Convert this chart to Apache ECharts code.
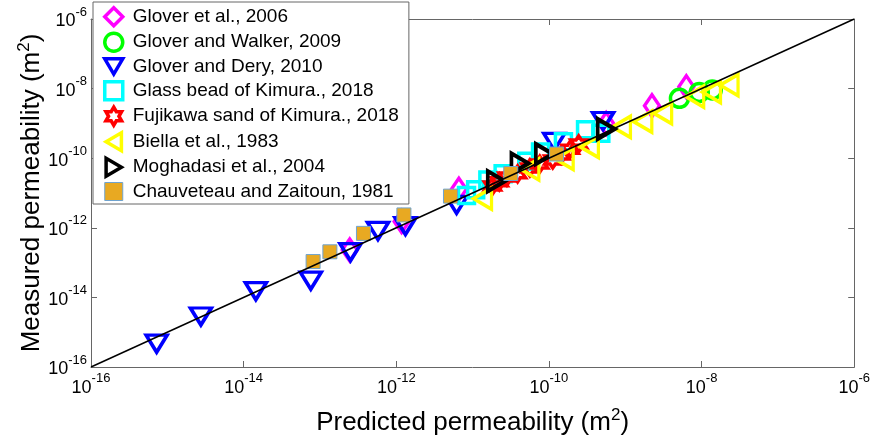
<!DOCTYPE html>
<html>
<head>
<meta charset="utf-8">
<script src="https://cdn.jsdelivr.net/npm/echarts@6/dist/echarts.min.js"></script>
<style>
html, body { margin: 0; padding: 0; background: #fff; }
#chart { width: 873px; height: 443px; }
</style>
</head>
<body>
<div id="chart"></div>
<script>
// values are log10 of permeability (m^2): [predicted, measured]
const axisMin = -16
const axisMax = -6
const tickStep = 2

const glover2006 = [[-12.61, -12.64], [-11.93, -11.82], [-11.18, -10.89], [-9.25, -9.00], [-8.65, -8.49], [-8.20, -7.95]]
const gloverWalker2009 = [[-8.29, -8.28], [-8.03, -8.11], [-7.86, -8.04]]
const gloverDery2010 = [[-15.14, -15.33], [-14.56, -14.55], [-13.84, -13.82], [-13.12, -13.52], [-12.60, -12.70],
  [-12.24, -12.09], [-11.88, -11.95], [-11.21, -11.34], [-9.93, -9.53], [-9.29, -8.93]]
const glassBead2018 = [[-11.08, -11.07], [-10.96, -10.91], [-10.80, -10.63], [-10.60, -10.45], [-10.29, -10.09],
  [-10.11, -9.82], [-9.81, -9.53], [-9.52, -9.18], [-9.32, -9.28]]
const fujikawa2018 = [[-10.74, -10.80], [-10.65, -10.68], [-10.55, -10.54], [-10.41, -10.45], [-10.25, -10.28],
  [-10.12, -10.17], [-9.95, -10.05], [-9.84, -9.91], [-9.72, -9.74], [-9.61, -9.59]]
const biella1983 = [[-10.87, -11.16], [-10.25, -10.32], [-9.80, -10.02], [-9.47, -9.68], [-9.05, -9.10],
  [-8.77, -8.95], [-8.51, -8.71], [-8.09, -8.23], [-7.87, -8.10], [-7.64, -7.90]]
const moghadasi2004 = [[-10.69, -10.66], [-10.38, -10.15], [-10.06, -9.88], [-9.25, -9.16]]
const chauveteau1981 = [[-13.09, -12.97], [-12.87, -12.69], [-12.43, -12.16], [-11.90, -11.63], [-11.29, -11.09],
  [-10.50, -10.44], [-9.90, -9.88]]
const oneToOne = [[-16, -16], [-6, -6]]

const FONT = 'Liberation Sans, Arial, sans-serif'
const hexagram = 'path://M0,-10L2.89,-5L8.66,-5L5.77,0L8.66,5L2.89,5L0,10L-2.89,5L-8.66,5L-5.77,0L-8.66,-5L-2.89,-5Z'
const triDown = 'path://M0,0L20,0L10,17Z'
const triLeft = 'path://M0,10L17,0L17,20Z'
const triRight = 'path://M17,10L0,0L0,20Z'

const powRich = {
  b: { fontSize: 18, lineHeight: 18, fontFamily: FONT, color: '#000', verticalAlign: 'bottom' },
  s: { fontSize: 13, lineHeight: 13, fontFamily: FONT, color: '#000', verticalAlign: 'bottom', padding: [0, 0, 12, 0] },
}
const powLabel = v => '{b|10}{s|' + v + '}'
const nameRich = {
  a: { fontSize: 26, fontFamily: FONT, color: '#000', verticalAlign: 'bottom' },
  s: { fontSize: 17, fontFamily: FONT, color: '#000', verticalAlign: 'bottom', padding: [0, 0, 12, 0] },
}

const hollow = (name, data, symbol, size, color, bw) => ({
  name, type: 'scatter', data, symbol, symbolSize: size,
  itemStyle: { color: 'rgba(0,0,0,0)', borderColor: color, borderWidth: bw || 3.5, opacity: 1 },
})

const baseAxis = {
  type: 'value', min: axisMin, max: axisMax, interval: tickStep,
  splitLine: { show: false },
  axisLine: { lineStyle: { color: '#666', width: 1 } },
  axisTick: { inside: true, length: 6, lineStyle: { color: '#666' } },
}

const chart = echarts.init(document.getElementById('chart'))
chart.setOption({
  animation: false,
  backgroundColor: '#fff',
  grid: { left: 91, right: 18, top: 19, bottom: 76 },
  xAxis: [
    { ...baseAxis, position: 'bottom',
      axisLabel: { formatter: powLabel, rich: powRich, margin: 12 },
      name: '{a|Predicted permeability (m}{s|2}{a|)}', nameLocation: 'middle', nameGap: 40,
      nameTextStyle: { rich: nameRich } },
    { ...baseAxis, position: 'top', axisLabel: { show: false } },
  ],
  yAxis: [
    { ...baseAxis, position: 'left',
      axisLabel: { formatter: powLabel, rich: powRich, margin: 4, padding: [5, 0, 0, 0] },
      name: '{a|Measured permeability (m}{s|2}{a|)}', nameLocation: 'middle', nameGap: 46,
      nameMoveOverlap: false,
      nameTextStyle: { rich: nameRich } },
    { ...baseAxis, position: 'right', axisLabel: { show: false } },
  ],
  legend: {
    orient: 'vertical', left: 93, top: 2,
    padding: [4, 10, 3, 10], itemGap: 4, itemWidth: 18, itemHeight: 18,
    backgroundColor: '#fff', borderColor: '#666', borderWidth: 1,
    textStyle: { fontSize: 19, lineHeight: 19, fontFamily: FONT, color: '#000', padding: [0, 0, 0, 5] },
    itemStyle: { borderWidth: 3.5 },
    data: [
      'Glover et al., 2006', 'Glover and Walker, 2009', 'Glover and Dery, 2010', 'Glass bead of Kimura., 2018',
      'Fujikawa sand of Kimura., 2018', 'Biella et al., 1983', 'Moghadasi et al., 2004',
      { name: 'Chauveteau and Zaitoun, 1981', itemStyle: { borderWidth: 1 } },
    ],
  },
  series: [
    hollow('Glover et al., 2006', glover2006, 'diamond', [15, 22], '#ff00ff'),
    hollow('Glover and Walker, 2009', gloverWalker2009, 'circle', 18, '#00ff00'),
    hollow('Glover and Dery, 2010', gloverDery2010, triDown, [21, 17], '#0000ff'),
    hollow('Glass bead of Kimura., 2018', glassBead2018, 'rect', 16, '#00ffff'),
    hollow('Fujikawa sand of Kimura., 2018', fujikawa2018, hexagram, 16, '#ff0000'),
    hollow('Biella et al., 1983', biella1983, triLeft, [18, 21], '#ffff00'),
    hollow('Moghadasi et al., 2004', moghadasi2004, triRight, [17, 20], '#000000', 4),
    { name: 'Chauveteau and Zaitoun, 1981', type: 'scatter', data: chauveteau1981, symbol: 'rect', symbolSize: 14,
      itemStyle: { color: '#e8a922', borderColor: '#6fa3cf', borderWidth: 1, opacity: 1 } },
    { name: '1:1', type: 'line', data: oneToOne, symbol: 'none', silent: true,
      lineStyle: { color: '#000', width: 1.5 }, z: 5 },
  ],
})
</script>
</body>
</html>
